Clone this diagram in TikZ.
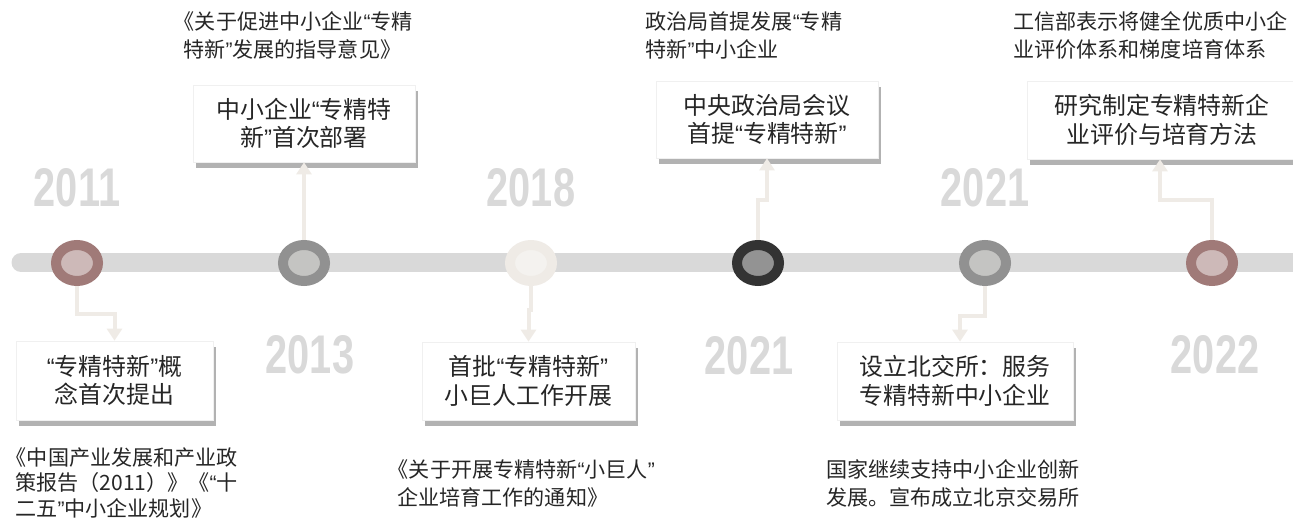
\documentclass[tikz,border=0pt]{standalone}
\usepackage{fontspec}
\usepackage{graphicx}
\setmainfont{Noto Sans CJK SC}
\newfontfamily\yearfont{Liberation Sans}
\newfontfamily\quotefont{Liberation Sans}
\newcommand\qopen{{\quotefont “}}
\newcommand\qclose{{\quotefont ”}}
\newcommand\bookopen{\hspace*{-0.45em}《}
\usepackage{tikz}
\usetikzlibrary{shadows, positioning, shapes.geometric, arrows.meta}
\definecolor{railgray}{HTML}{D9D9D9}
\definecolor{rosedark}{HTML}{A07A78}
\definecolor{roselight}{HTML}{CDB9B8}
\definecolor{stonedark}{HTML}{919191}
\definecolor{stonelight}{HTML}{C4C4C2}
\definecolor{sanddark}{HTML}{EFEBE6}
\definecolor{sandlight}{HTML}{F4F2EF}
\definecolor{inkdark}{HTML}{333333}
\definecolor{inklight}{HTML}{939393}
\definecolor{linkbeige}{HTML}{EFEBE6}
\definecolor{textblack}{HTML}{262626}

\begin{document}
\begin{tikzpicture}[x=0.02cm, y=-0.02cm,
    dot/.style={ellipse, inner sep=0pt, minimum width=0.84cm, minimum height=0.72cm, line width=0.2cm},
    card/.style={rectangle, fill=white, draw=black!6, align=center, inner sep=0pt,
      text=textblack, font=\fontsize{13.6}{16.3}\selectfont,
      drop shadow={shadow xshift=0.06cm, shadow yshift=-0.12cm, fill=black!60, opacity=0.5}},
    note/.style={anchor=north west, align=left, inner sep=0pt, text=textblack,
      font=\fontsize{12}{15.9}\selectfont},
    year/.style={text=railgray, inner sep=0pt, font=\yearfont\bfseries\fontsize{31}{31}\selectfont},
    link/.style={draw=linkbeige, line width=0.08cm, -{Triangle[length=0.24cm, width=0.3cm]}}]
    \useasboundingbox (0,0) rectangle (1293,519);
    % timeline rail
    \draw[railgray, line width=0.38cm, line cap=round] (21,262.5) -- (1300,262.5);
    % year labels
    \node[year] (y2011) at (77,188) {\scalebox{0.73}[1]{2011}};
    \node[year] (y2013) at (310,355) {\scalebox{0.73}[1]{2013}};
    \node[year] (y2018) at (531,188) {\scalebox{0.73}[1]{2018}};
    \node[year] (y2021a) at (749,356) {\scalebox{0.73}[1]{2021}};
    \node[year] (y2021b) at (985,188) {\scalebox{0.73}[1]{2021}};
    \node[year] (y2022) at (1215,355) {\scalebox{0.73}[1]{2022}};
    % milestones on the rail
    \node[dot, draw=rosedark, fill=roselight] (d2011) at (77,263) {};
    \node[dot, draw=stonedark, fill=stonelight] (d2013) at (304,263) {};
    \node[dot, draw=sanddark, fill=sandlight] (d2018) at (531,263) {};
    \node[dot, draw=inkdark, fill=inklight] (d2021a) at (758,263) {};
    \node[dot, draw=stonedark, fill=stonelight] (d2021b) at (985,263) {};
    \node[dot, draw=rosedark, fill=roselight] (d2022) at (1212,263) {};
    % event cards
    \node[card, minimum width=3.94cm, minimum height=1.58cm] (b2011) at (114.5,380.5)
      {\qopen 专精特新\qclose 概\\念首次提出};
    \node[card, minimum width=4.44cm, minimum height=1.54cm] (b2013) at (304,123.5)
      {中小企业\qopen 专精特\\新\qclose 首次部署};
    \node[card, minimum width=4.26cm, minimum height=1.56cm] (b2018) at (528.5,381)
      {首批\qopen 专精特新\qclose\\小巨人工作开展};
    \node[card, minimum width=4.44cm, minimum height=1.54cm] (b2021a) at (767,119.5)
      {中央政治局会议\\首提\qopen 专精特新\qclose};
    \node[card, minimum width=4.72cm, minimum height=1.56cm] (b2021b) at (955,381)
      {设立北交所：服务\\专精特新中小企业};
    \node[card, minimum width=5.4cm, minimum height=1.56cm] (b2022) at (1162,120)
      {研究制定专精特新企\\业评价与培育方法};
    % source notes
    \node[note, font=\fontsize{12}{14.6}\selectfont] (n2011) at (15,447)
      {\bookopen 中国产业发展和产业政\\策报告（2011）》《\qopen 十\\二五\qclose 中小企业规划》};
    \node[note] (n2013) at (183,11) {\bookopen 关于促进中小企业\qopen 专精\\特新\qclose 发展的指导意见》};
    \node[note] (n2018) at (397,459) {\bookopen 关于开展专精特新\qopen 小巨人\qclose\\企业培育工作的通知》};
    \node[note] (n2021a) at (645,11) {政治局首提发展\qopen 专精\\特新\qclose 中小企业};
    \node[note] (n2021b) at (826,459) {国家继续支持中小企业创新\\发展。宣布成立北京交易所};
    \node[note] (n2022) at (1013,11) {工信部表示将健全优质中小企\\业评价体系和梯度培育体系};
    % connectors
    \draw[link] (d2011.south) -- ++(0,28) -| (b2011.north);
    \draw[link] (d2013.north) -- (d2013.north |- b2013.south);
    \draw[link] (d2018.south) -- ++(0,24) -| (b2018.north);
    \draw[link] (d2021a.north) -- ++(0,-40) -| (b2021a.south);
    \draw[link] (d2021b.south) -- ++(0,30) -| ([xshift=0.1cm]b2021b.north);
    \draw[link] (d2022.north) -- ++(0,-40) -| ([xshift=-0.04cm]b2022.south);
  \end{tikzpicture}
\end{document}
